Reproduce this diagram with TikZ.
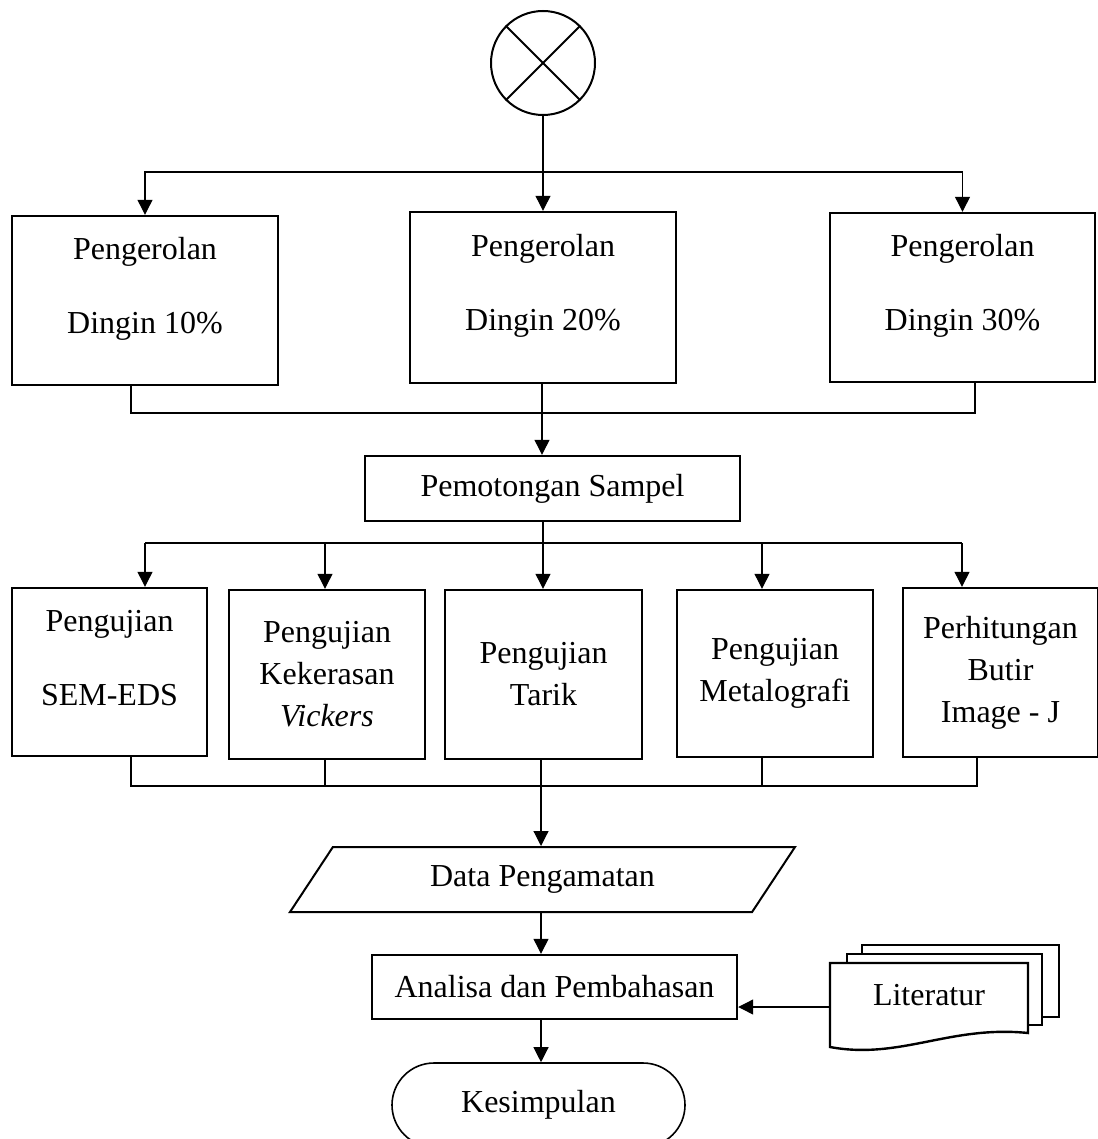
\documentclass[tikz,border=0pt]{standalone}
\usepackage{fontspec}
\setmainfont{Liberation Serif}
\usetikzlibrary{arrows.meta,shapes.geometric}

\begin{document}
\begin{tikzpicture}[x=0.5pt,y=-0.5pt,>={Triangle[length=7.5pt,width=7.5pt]},font=\fontsize{16}{21}\selectfont,
  box/.style={draw,line width=1.2pt,inner sep=0pt,align=center},
  wire/.style={line width=0.6pt},
  txt/.style={align=center,inner sep=0pt}]
\useasboundingbox (0,0) rectangle (1097,1139);
% start
\node[circle,draw,line width=1pt,minimum size=52pt,inner sep=0pt] (start) at (543,63){};
\draw[line width=1pt] (start.north west)--(start.south east) (start.north east)--(start.south west);
% pengerolan
\node[box,minimum width=133pt,minimum height=84.5pt] (rol1) at (145,300.5){};
\node[txt] (trol1) at ([yshift=6pt]rol1.center){Pengerolan\\[16pt]Dingin 10\%};
\node[box,minimum width=133pt,minimum height=85.5pt] (rol2) at (543,297.5){};
\node[txt] (trol2) at ([yshift=6pt]rol2.center){Pengerolan\\[16pt]Dingin 20\%};
\node[box,minimum width=132.5pt,minimum height=84.5pt] (rol3) at (962.5,297.5){};
\node[txt] (trol3) at ([yshift=6pt]rol3.center){Pengerolan\\[16pt]Dingin 30\%};
\coordinate (fan1) at (543,172);
\draw[wire,->] (start.south)--(rol2.north);
\draw[wire,->] (fan1)-|(rol1.north); \draw[wire,->] (fan1)-|(rol3.north);
% pemotongan
\node[box,minimum width=187.5pt,minimum height=32.5pt] (pot) at (552.5,488.5){Pemotongan Sampel};
\coordinate (b1) at (131,413); \coordinate (b2) at (542,413); \coordinate (b3) at (975,413);
\draw[wire] (b1|-rol1.south)--(b1)--(b3)--(b3|-rol3.south);
\draw[wire,->] (b2|-rol2.south)--(b2|-pot.north);
% pengujian
\node[box,minimum width=97.5pt,minimum height=84pt] (uji1) at (109.5,672){};
\node[txt] (tuji1) at ([yshift=7pt]uji1.center){Pengujian\\[16pt]SEM-EDS};
\node[box,minimum width=98pt,minimum height=84.5pt] (uji2) at (327,674.5){Pengujian\\Kekerasan\\\textit{Vickers}};
\node[box,minimum width=98.5pt,minimum height=84.5pt] (uji3) at (543.5,674.5){Pengujian\\Tarik};
\node[box,minimum width=98pt,minimum height=83.5pt] (uji4) at (775,673.5){Pengujian\\Metalografi};
\node[box,minimum width=97.5pt,minimum height=84.5pt] (uji5) at (1000.5,672.5){Perhitungan\\Butir\\Image - J};
\coordinate (d1) at (145,543); \coordinate (d2) at (325,543); \coordinate (d3) at (543,543);
\coordinate (d4) at (762,543); \coordinate (d5) at (962,543);
\draw[wire] (d1)--(d5);
\draw[wire,->] (d3|-pot.south)--(d3|-uji3.north);
\draw[wire,->] (d1)--(d1|-uji1.north); \draw[wire,->] (d2)--(d2|-uji2.north);
\draw[wire,->] (d4)--(d4|-uji4.north); \draw[wire,->] (d5)--(d5|-uji5.north);
% data
\node[draw,trapezium,trapezium left angle=33,trapezium right angle=147,trapezium stretches body,minimum width=252.5pt,minimum height=32.5pt,line width=1pt,inner sep=0pt] (dat) at (542.5,879.5){Data Pengamatan};
\coordinate (e1) at (131,786); \coordinate (e2) at (325,786); \coordinate (e3) at (541,786);
\coordinate (e4) at (762,786); \coordinate (e5) at (977,786);
\draw[wire] (e1|-uji1.south)--(e1)--(e5)--(e5|-uji5.south);
\draw[wire] (e2|-uji2.south)--(e2); \draw[wire] (e4|-uji4.south)--(e4);
\draw[wire,->] (e3|-uji3.south)--(e3|-dat.north);
% analisa
\node[box,minimum width=182.5pt,minimum height=32pt] (ana) at (554.5,987){Analisa dan Pembahasan};
\draw[wire,->] (e3|-dat.south)--(e3|-ana.north);
% literatur
\filldraw[fill=white,line width=1.2pt] (862,945) rectangle (1059,1017);
\filldraw[fill=white,line width=1.2pt] (847,954) rectangle (1042,1025);
\filldraw[fill=white,line width=1.2pt] (830,963)--(1028,963)--(1028,1033) .. controls (950,1025) and (900,1060) .. (830,1047)--cycle;
\node[txt] (lit) at (929,995){Literatur};
\coordinate (litin) at (830,1007);
\draw[wire,->] (litin)--(litin-|ana.east);
% kesimpulan
\node[draw,line width=0.8pt,rounded corners=21pt,minimum width=146.5pt,minimum height=42pt] (kes) at (538.5,1105){Kesimpulan};
\draw[wire,->] (e3|-ana.south)--(e3|-kes.north);
\end{tikzpicture}
\end{document}
